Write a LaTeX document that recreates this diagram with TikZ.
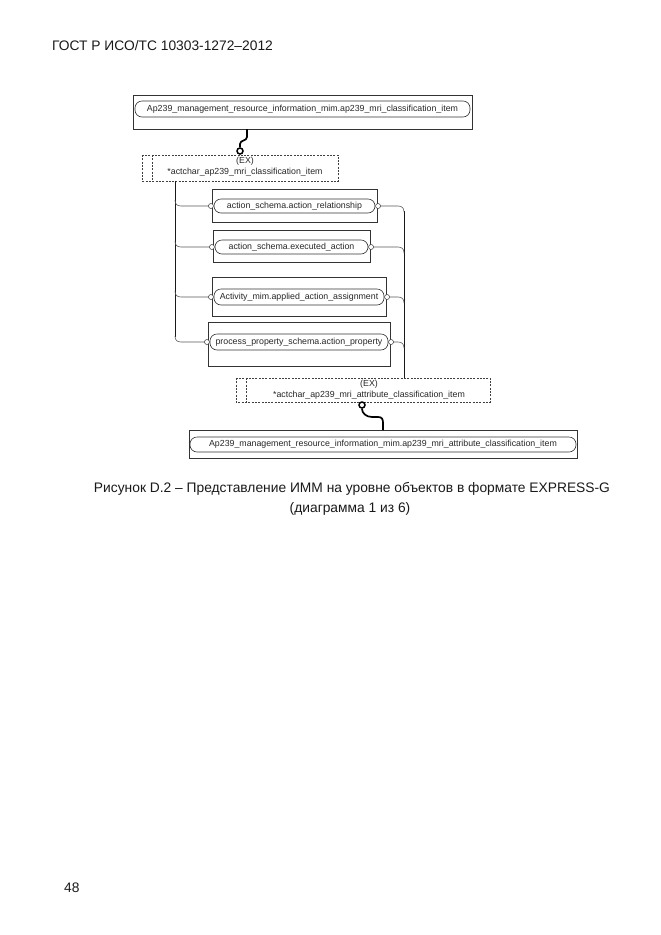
\documentclass[tikz,border=0pt]{standalone}
\usepackage{fontspec}
\setmainfont{Liberation Sans}
\begin{document}
\begin{tikzpicture}[x=1pt,y=-1pt,
  outerbox/.style={draw=black!80,line width=0.6pt,minimum width=#1,inner sep=0pt},
  pill/.style={draw=black!80,line width=0.6pt,rounded corners=7pt,inner sep=0pt,font=\fontsize{8.8}{10}\selectfont,text=black!85},
  dbox/.style={draw=black!75,line width=0.6pt,dash pattern=on 2pt off 1.3pt},
  dtext/.style={font=\fontsize{8.8}{10}\selectfont,text=black!85,inner sep=0pt},
  smallc/.style={circle,draw=black!80,line width=0.5pt,fill=white,minimum size=5pt,inner sep=0pt},
  bigc/.style={circle,draw=black,line width=1.5pt,fill=white,minimum size=6pt,inner sep=0pt},
  thin/.style={draw=black!65,line width=0.6pt},
  trunk/.style={draw=black!90,line width=1pt},
  thickc/.style={draw=black,line width=1.7pt},
  page/.style={font=\fontsize{13.8}{16}\selectfont,text=black!90,inner sep=0pt}
]
\useasboundingbox (0,0) rectangle (661,935);

% header, footer, caption
\node[page,anchor=west] (hdr) at (52,46) {ГОСТ Р ИСО/ТС 10303-1272–2012};
\node[page,anchor=west] (pgn) at (64,888) {48};
\node[page] (cap1) at (352,489) {Рисунок  D.2 – Представление ИММ на уровне объектов в формате EXPRESS-G};
\node[page] (cap2) at (350,509) {(диаграмма 1 из 6)};

% top entity
\node[outerbox=339pt,minimum height=34pt] (topo) at (302.5,112) {};
\node[pill,minimum width=335pt,minimum height=16pt] (topp) at (302.5,109) {Ap239\_management\_resource\_information\_mim.ap239\_mri\_classification\_item};

% dashed select 1
\draw[dbox] (142,155) rectangle (338,181);
\draw[dbox] (152,155) -- (152,181);
\node[dtext] (ex1) at (245,161) {(EX)};
\node[dtext] (sel1) at (245,172.5) {*actchar\_ap239\_mri\_classification\_item};
\coordinate (s1top) at (240,155);
\coordinate (s1bot) at (175,181);

% top connector
\node[bigc] (c1) at (240,151) {};
\coordinate (topstart) at (247,129);
\draw[thickc] (topstart) -- (247,137) .. controls (247,141) and (240,140) .. (240,144) -- (c1.north);

% boxes
\node[outerbox=165pt,minimum height=33pt] (b1o) at (294.5,205.5) {};
\node[pill,minimum width=161pt,minimum height=14pt] (b1) at (294.5,206) {action\_schema.action\_relationship};
\node[outerbox=157pt,minimum height=32pt] (b2o) at (291.5,246) {};
\node[pill,minimum width=153pt,minimum height=14pt] (b2) at (291.5,247) {action\_schema.executed\_action};
\node[outerbox=174pt,minimum height=39pt] (b3o) at (299,296.5) {};
\node[pill,minimum width=170pt,minimum height=16pt] (b3) at (299,297) {Activity\_mim.applied\_action\_assignment};
\node[outerbox=182pt,minimum height=44pt] (b4o) at (299,344) {};
\node[pill,minimum width=178pt,minimum height=16pt] (b4) at (299,342) {process\_property\_schema.action\_property};

\foreach \b in {b1,b2,b3,b4}{
  \node[smallc,anchor=east] (\b l) at (\b.west) {};
  \node[smallc,anchor=west] (\b r) at (\b.east) {};
}

% left trunk
\draw[trunk] (s1bot) -- (175,337);
\foreach \b in {b1,b2,b3,b4}{
  \draw[thin] (175,0 |- \b l.west) ++(0,-6) .. controls ++(0,4) and ++(-4,0) .. ++(6,6) -- (\b l.west);
}

% right trunk
\coordinate (rtop) at (404,211);
\coordinate (rbot) at (404,378);
\draw[trunk] (rtop) -- (rbot);
\foreach \b in {b1,b2,b3,b4}{
  \draw[thin] (\b r.east) -- (398,0 |- \b r.east) .. controls ++(4,0) and ++(0,-4) .. ++(6,6);
}

% dashed select 2
\draw[dbox] (236,378) rectangle (490,402);
\draw[dbox] (246,378) -- (246,402);
\node[dtext] (ex2) at (369,384.5) {(EX)};
\node[dtext] (sel2) at (369,395.5) {*actchar\_ap239\_mri\_attribute\_classification\_item};

% bottom entity
\node[outerbox=388pt,minimum height=28pt] (boto) at (383,444) {};
\node[pill,minimum width=386pt,minimum height=15pt] (botp) at (383,444.5) {Ap239\_management\_resource\_information\_mim.ap239\_mri\_attribute\_classification\_item};

% bottom connector
\node[bigc] (c2) at (362,405) {};
\coordinate (botend) at (383,430);
\draw[thickc] (c2.south) .. controls (362,413) and (366,417) .. (372,417) -- (378,417) .. controls (382,417) and (383,419) .. (383,423) -- (botend);
\end{tikzpicture}
\end{document}
